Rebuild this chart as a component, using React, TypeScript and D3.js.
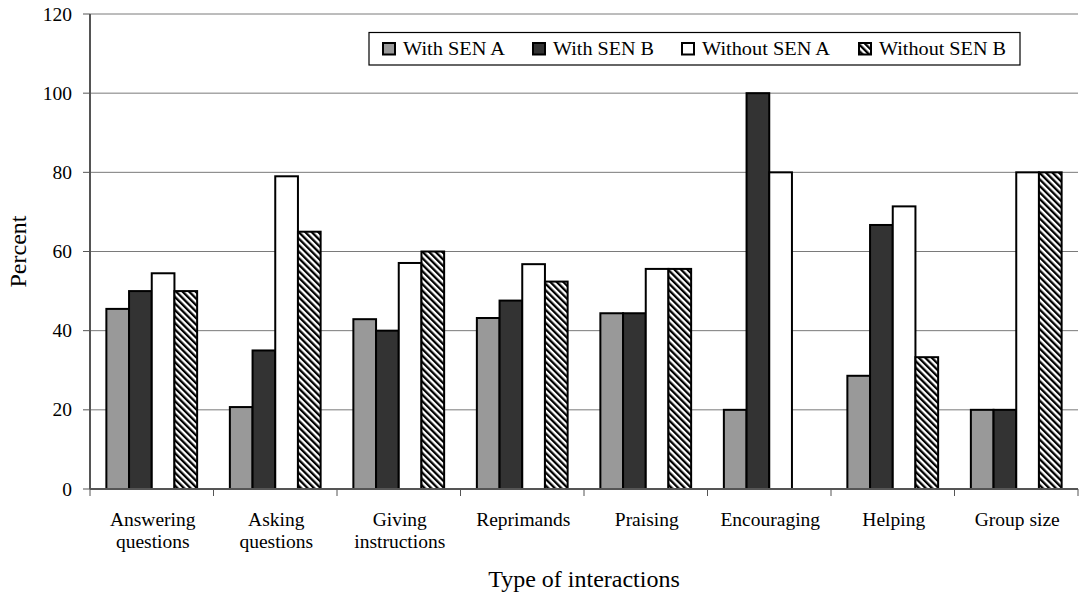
import React from "react";
import * as d3 from "d3";

const categories = [
  ["Answering", "questions"],
  ["Asking", "questions"],
  ["Giving", "instructions"],
  ["Reprimands"],
  ["Praising"],
  ["Encouraging"],
  ["Helping"],
  ["Group size"],
];
const seriesNames = ["With SEN A", "With SEN B", "Without SEN A", "Without SEN B"];
const withSenA = [45.5, 20.7, 42.9, 43.2, 44.4, 20, 28.6, 20];
const withSenB = [50, 35, 40, 47.6, 44.4, 100, 66.7, 20];
const withoutSenA = [54.5, 79, 57.1, 56.8, 55.6, 80, 71.4, 80];
const withoutSenB = [50, 65, 60, 52.4, 55.6, 0, 33.3, 80];
const yTicks = [0, 20, 40, 60, 80, 100, 120];

const seriesValues = [withSenA, withSenB, withoutSenA, withoutSenB];
const fills = ["#999999", "#333333", "#ffffff", "url(#hatch)"];

export default function App() {
  const left = 90, right = 1078, top = 14, bottom = 489;
  const font = '"Liberation Serif", "Times New Roman", serif';
  const x0 = d3.scaleBand<number>().domain(d3.range(categories.length)).range([left, right]).paddingInner(0).paddingOuter(0);
  const groupW = x0.bandwidth() * 0.735;
  const x1 = d3.scaleBand<number>().domain(d3.range(4)).range([0, groupW]);
  const y = d3.scaleLinear().domain([0, 120]).range([bottom, top]);
  const legendX = [383, 533, 682, 859];
  const legendTextW = [102, 101, 128, 127];

  return (
    <svg width={1089} height={597} style={{ position: "absolute", left: 0, top: 0, background: "#fff", fontFamily: font }}>
      <defs>
        <pattern id="hatch" patternUnits="userSpaceOnUse" width={4.6} height={4.6} patternTransform="rotate(-45)">
          <rect x={0} y={0} width={4.6} height={4.6} fill="#fff" />
          <rect x={0} y={0} width={2.3} height={4.6} fill="#000" />
        </pattern>
      </defs>
      {yTicks.filter((t) => t > 0).map((t) => (
        <line key={t} x1={left} x2={right} y1={y(t)} y2={y(t)} stroke="#7a7a7a" strokeWidth={1} />
      ))}
      {categories.map((_, ci) => {
        const gx = x0(ci)! + (x0.bandwidth() - groupW) / 2;
        return seriesValues.map((vals, si) => {
          const v = vals[ci];
          if (v <= 0) return null;
          return (
            <rect key={`${ci}-${si}`} x={gx + x1(si)!} y={y(v)} width={x1.bandwidth()} height={y(0) - y(v)}
              fill={fills[si]} stroke="#000" strokeWidth={2} />
          );
        });
      })}
      <line x1={left} x2={left} y1={top} y2={bottom} stroke="#555" strokeWidth={2} />
      <line x1={left} x2={right} y1={bottom} y2={bottom} stroke="#555" strokeWidth={2} />
      {yTicks.map((t) => (
        <g key={t}>
          <line x1={left - 7} x2={left} y1={y(t)} y2={y(t)} stroke="#555" strokeWidth={1} />
          <text x={72} y={y(t) + 6.5} textAnchor="end" fontSize={19.5} fill="#000">{t}</text>
        </g>
      ))}
      {d3.range(categories.length + 1).map((i) => {
        const xx = i < categories.length ? x0(i)! : right;
        return <line key={i} x1={xx} x2={xx} y1={bottom} y2={bottom + 7} stroke="#555" strokeWidth={1} />;
      })}
      {categories.map((lines, ci) => (
        <text key={ci} textAnchor="middle" fontSize={19.5} fill="#000">
          {lines.map((l, li) => (
            <tspan key={li} x={x0(ci)! + x0.bandwidth() / 2 + 1} y={526 + li * 22}>{l}</tspan>
          ))}
        </text>
      ))}
      <text x={(left + right) / 2} y={587} textAnchor="middle" fontSize={24} fill="#000">Type of interactions</text>
      <text transform={`translate(26, ${(top + bottom) / 2}) rotate(-90)`} textAnchor="middle" fontSize={24} fill="#000">Percent</text>
      <rect x={369} y={32.5} width={651} height={32.5} fill="#fff" stroke="#000" strokeWidth={1.2} />
      {seriesNames.map((n, i) => (
        <g key={n}>
          <rect x={legendX[i]} y={43} width={12} height={11.5} fill={fills[i]} stroke="#000" strokeWidth={2} />
          <text x={legendX[i] + 20} y={55} fontSize={18.5} fill="#000" textLength={legendTextW[i]} lengthAdjust="spacingAndGlyphs">{n}</text>
        </g>
      ))}
    </svg>
  );
}
